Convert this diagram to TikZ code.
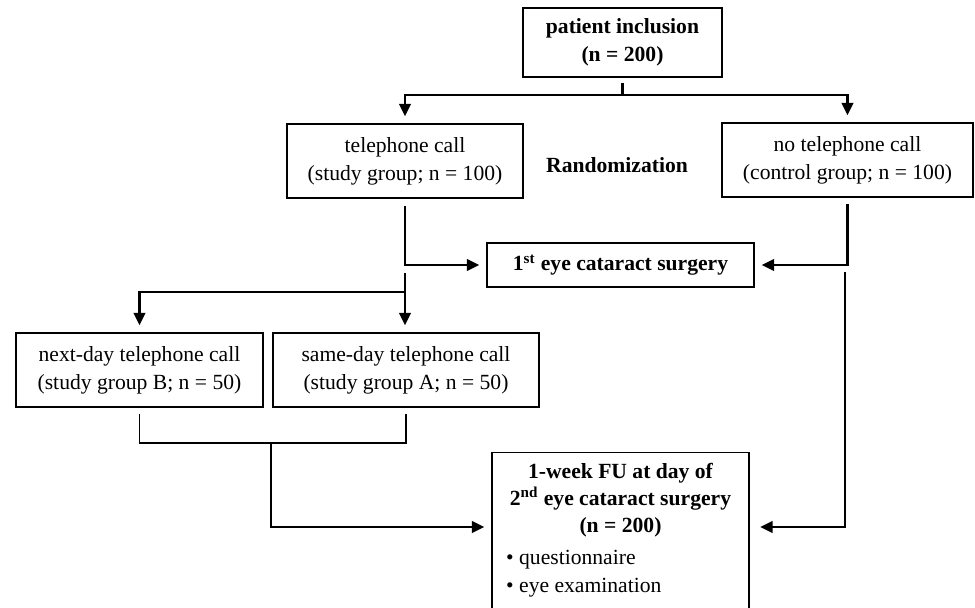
\documentclass[tikz,border=0pt]{standalone}
\usepackage{fontspec}
\setmainfont{Liberation Serif}
\usetikzlibrary{arrows.meta}

\begin{document}
\begin{tikzpicture}[
        every node/.style={font=\fontsize{12.3}{16}\selectfont},
        box/.style={draw, line width=0.8pt, align=center, inner sep=2pt},
        conn/.style={line width=1.4pt},
        arrow/.style={conn, -{Triangle[length=7pt,width=6.5pt]}, shorten >=4pt},
        bracket/.style={line width=0.7pt}
    ]
        \useasboundingbox (0,0) rectangle (19.5,-12.14);
        \clip (0,0) rectangle (19.5,-12.14);

        \node[box, minimum width=3.98cm, minimum height=1.38cm, font=\fontsize{12.3}{16}\selectfont\bfseries] (pat) at (12.45,-0.85) {patient inclusion\\(n = 200)};

        \node[box, minimum width=4.72cm, minimum height=1.48cm] (tel) at (8.1,-3.22) {telephone call\\(study group; n = 100)};
        \node[font=\fontsize{12.3}{16}\selectfont\bfseries] (rand) at (12.34,-3.3) {Randomization};
        \node[box, minimum width=5.02cm, minimum height=1.48cm] (notel) at (16.95,-3.2) {no telephone call\\(control group; n = 100)};

        \node[box, minimum width=5.34cm, minimum height=0.88cm, font=\fontsize{12.3}{16}\selectfont\bfseries] (eye1) at (12.41,-5.3) {1\textsuperscript{st} eye cataract surgery};

        \node[box, minimum width=4.94cm, minimum height=1.48cm] (nextday) at (2.79,-7.4) {next-day telephone call\\(study group B; n = 50)};
        \node[box, minimum width=5.32cm, minimum height=1.48cm] (sameday) at (8.12,-7.4) {same-day telephone call\\(study group A; n = 50)};

        \node[box, minimum width=5.14cm, minimum height=3.5cm, anchor=north] (fu) at (12.41,-9.04) {};
        \node[font=\fontsize{12.3}{15.5}\selectfont\bfseries, align=center] (futitle) at (12.41,-10.0) {1-week FU at day of\\2\textsuperscript{nd} eye cataract surgery\\(n = 200)};
        \node[align=left, anchor=west] (fulist) at (10.0,-11.48) {\textbullet\ questionnaire\\\textbullet\ eye examination};

        % randomization split
        \coordinate (split) at (12.45,-1.9);
        \draw[conn] ([yshift=-0.1cm]pat.south) -- (split);
        \draw[arrow] (split) -| (tel.north);
        \draw[arrow] (split) -| (notel.north);

        % first surgery
        \draw[arrow] ([yshift=-0.14cm]tel.south) |- (eye1.west);
        \draw[arrow] ([yshift=-0.12cm]notel.south) |- (eye1.east);

        % study group split
        \coordinate (forktop) at (8.1,-5.46);
        \coordinate (fork) at (8.1,-5.84);
        \draw[arrow] (forktop) -- (forktop |- sameday.north);
        \draw[arrow] (fork) -| (nextday.north);

        % follow-up
        \coordinate (join) at (5.42,-8.86);
        \draw[bracket] ([yshift=-0.12cm]nextday.south) |- (join) -| ([yshift=-0.12cm]sameday.south);
        \draw[arrow] (join) |- ([yshift=-1.5cm]fu.north west);
        \coordinate (ctrltop) at (16.9,-5.44);
        \draw[arrow, shorten >=6pt] (ctrltop) |- ([yshift=-1.5cm]fu.north east);
    \end{tikzpicture}
\end{document}
